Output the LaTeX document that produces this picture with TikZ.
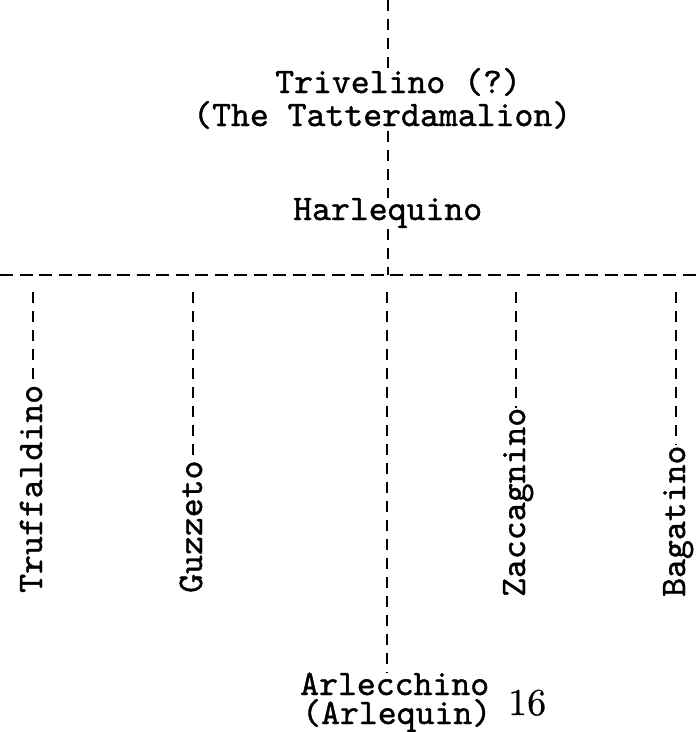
\documentclass[tikz,border=0pt]{standalone}
\usepackage{fontspec}
\newfontfamily\tw{lmmono10-regular.otf}[FakeBold=1.1]
\newfontfamily\pgfont{lmroman10-regular.otf}[FakeBold=0.5]
\tikzset{
  tw/.style={font=\tw\fontsize{36}{40}\selectfont, inner sep=0pt},
  vtw/.style={tw, rotate=90, anchor=base west},
  htw/.style={tw, anchor=base west},
  dl/.style={line width=2.8pt, dash pattern=on 11pt off 8pt},
  hdl/.style={line width=2.8pt, dash pattern=on 13pt off 6.5pt},
}
\begin{document}
\begin{tikzpicture}[x=1pt,y=-1pt]
\useasboundingbox (0,0) rectangle (697,732);
% texts
\node[htw] (triv) at (275,93) {Trivelino (?)};
\node[htw] (tatt) at (193,126) {(The Tatterdamalion)};
\node[htw] (harl) at (293,220) {Harlequino};
\node[htw] (arl) at (300,695) {Arlecchino};
\node[htw] (arl2) at (302,724) {(Arlequin)};
\node[inner sep=0pt, anchor=base west, font=\pgfont\fontsize{38}{40}\selectfont] (pg) at (508,715) {16};
\node[vtw] (truf) at (42,593) {Truffaldino};
\node[vtw] (guz) at (202,593) {Guzzeto};
\node[vtw] (zac) at (525,597) {Zaccagnino};
\node[vtw] (bag) at (685,597) {Bagatino};
% coordinates
\coordinate (top) at (388,0);
\coordinate (hl) at (0,275);
\coordinate (hr) at (697,275);
\coordinate (jn) at (388,275);
\coordinate (t1) at (33,292);
\coordinate (t2) at (193,292);
\coordinate (t3) at (387,292);
\coordinate (t4) at (516,292);
\coordinate (t5) at (676,292);
% connectors
\draw[dl] (top) -- (388,70);
\draw[dl] (388,131) -- (top |- harl.north);
\draw[dl] (388,229) -- (jn);
\draw[hdl] (hl) -- (hr);
\draw[dl] (t1) -- (t1 |- truf.east);
\draw[dl] (t2) -- (t2 |- guz.east);
\draw[dl] (t3) -- (t3 |- arl.north);
\draw[dl] (t4) -- (t4 |- zac.east);
\draw[dl] (t5) -- (t5 |- bag.east);
\end{tikzpicture}
\end{document}
